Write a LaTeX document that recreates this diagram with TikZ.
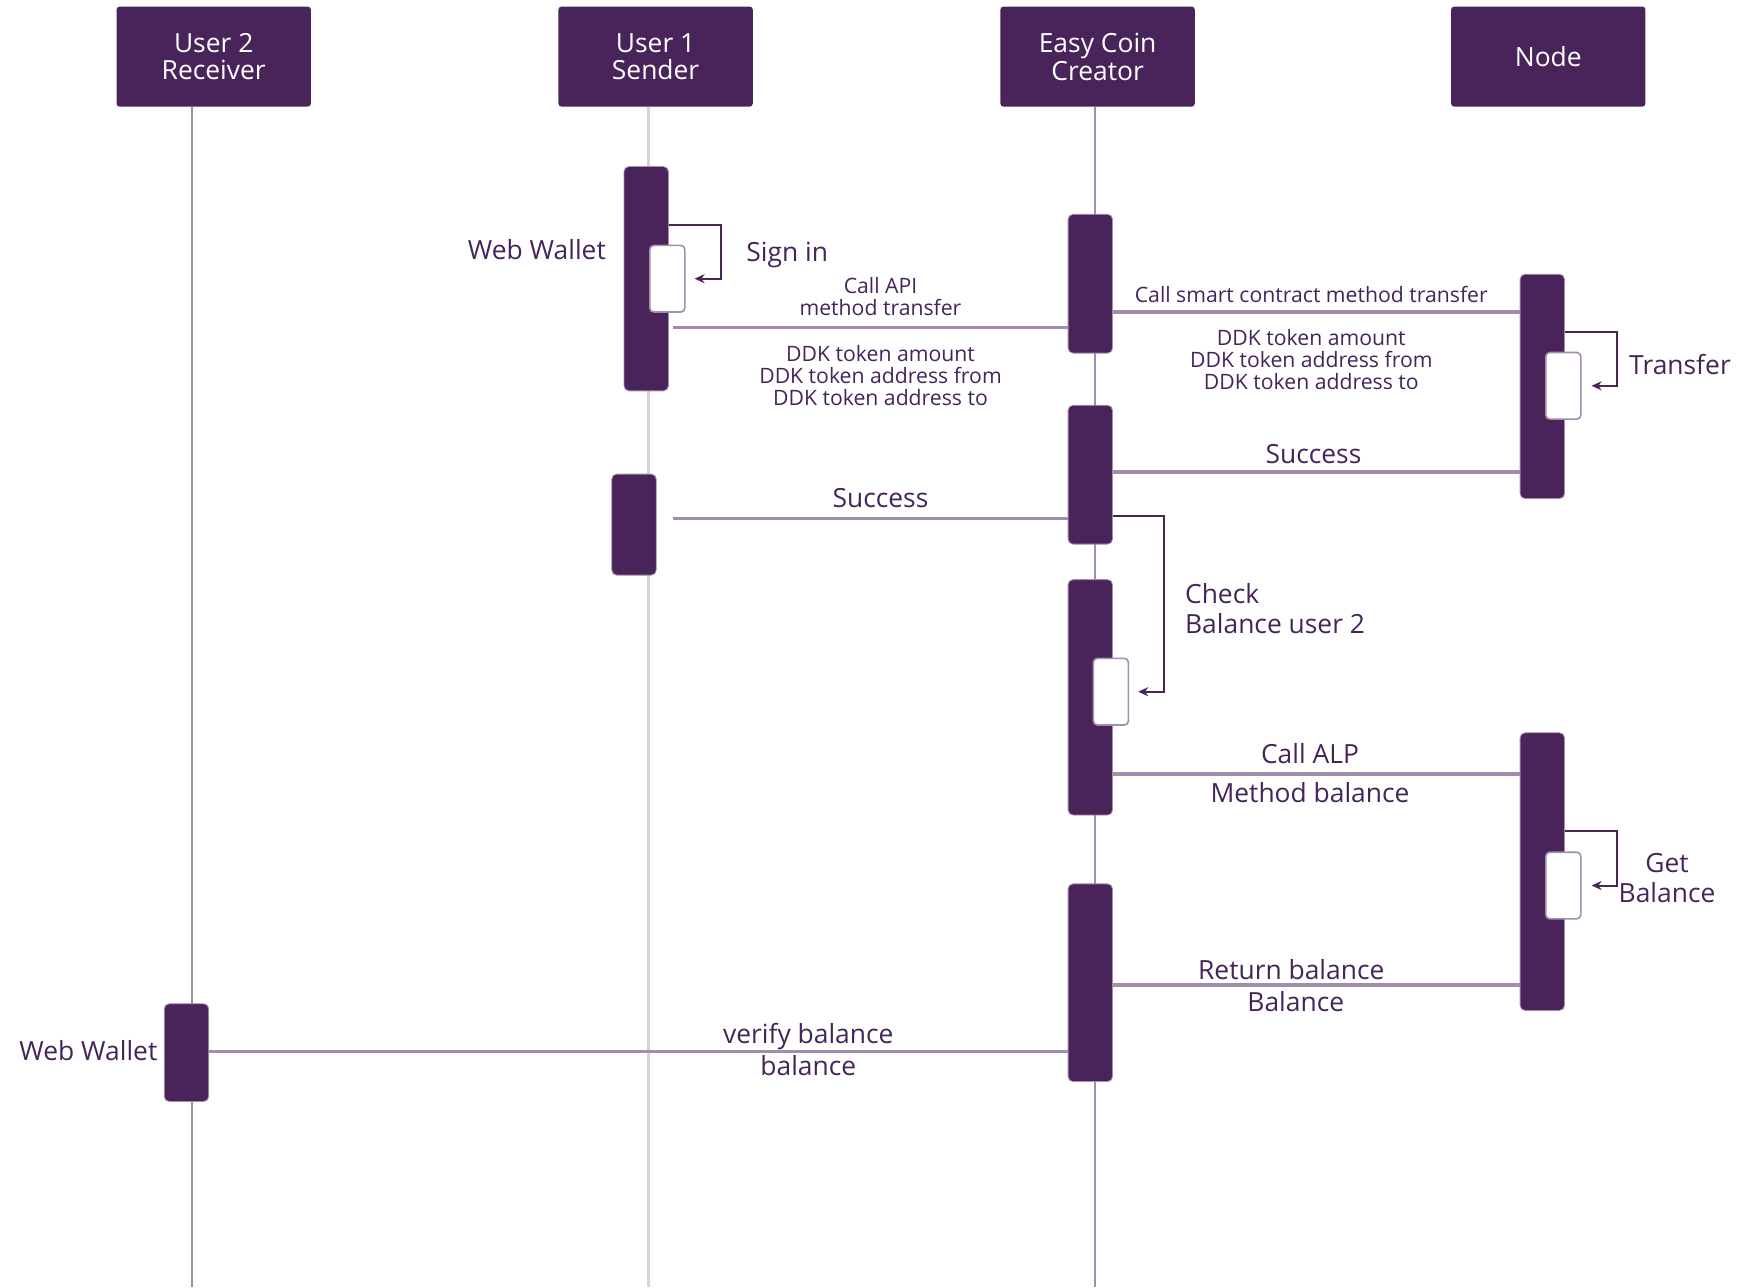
\documentclass[tikz,border=0pt]{standalone}
\usepackage{fontspec}
\setmainfont{Open Sans}
\usepackage{tikz}
\usetikzlibrary{arrows.meta}

\definecolor{easypurple}{HTML}{48245A}
\definecolor{linegray}{HTML}{A28DAD}
\definecolor{palegray}{HTML}{D8D1DE}
\definecolor{textpurple}{HTML}{45245A}

\tikzset{
  header/.style={fill=easypurple, rounded corners=1.5pt, minimum width=97.15pt,
    minimum height=50pt, inner sep=0pt, text=white, align=center,
    font=\fontsize{13.2}{13.9}\selectfont},
  actbar/.style={fill=easypurple, draw=linegray, line width=0.4pt,
    rounded corners=2.5pt, minimum width=22.2pt, inner sep=0pt},
  innerbox/.style={fill=white, draw=linegray, line width=0.8pt,
    rounded corners=2pt, minimum width=17.5pt, minimum height=33.3pt, inner sep=0pt},
  lifeline/.style={linegray, line width=1.2pt},
  msg/.style={linegray, line width=1.7pt},
  selfcall/.style={easypurple, line width=1pt, -{Stealth[length=5pt,width=4.5pt]}},
  biglbl/.style={text=textpurple, align=center, inner sep=0pt,
    font=\fontsize{13.2}{15}\selectfont},
  smalllbl/.style={text=textpurple, align=center, inner sep=0pt,
    font=\fontsize{10.6}{11.1}\selectfont}
}

\begin{document}
\begin{tikzpicture}[x=0.5pt,y=-0.5pt]
\useasboundingbox (0,0) rectangle (1741,1287);

% actors
\node[header] (hU2) at (213.7,56.6) {User 2\\Receiver};
\node[header] (hU1) at (655.6,56.6) {User 1\\Sender};
\node[header] (hEC) at (1097.6,56.6) {Easy Coin\\Creator};
\node[header] (hN)  at (1548.3,56.6) {Node};

% lifelines
\coordinate (lU2top) at (192,106.6);   \coordinate (lU2end) at (192,1287);
\coordinate (lU1top) at (648.4,106.6); \coordinate (lU1end) at (648.4,1287);
\coordinate (lECtop) at (1094.8,106.6);\coordinate (lECend) at (1094.8,1287);
\draw[lifeline] (lU2top) -- (lU2end);
\draw[lifeline,palegray] (lU1top) -- (lU1end);
\draw[lifeline] (lECtop) -- (lECend);

% activation bars
\node[actbar, minimum height=112.15pt] (bU1a) at (646.2,278.7) {};
\node[innerbox] (iU1) at (667.3,278.7) {};
\node[actbar, minimum height=50.5pt] (bU1b) at (634,524.6) {};

\node[actbar, minimum height=69.4pt] (bEC1) at (1090.3,283.7) {};
\node[actbar, minimum height=69.4pt] (bEC2) at (1090.3,474.7) {};
\node[actbar, minimum height=117.7pt] (bEC3) at (1090.3,697.3) {};
\node[innerbox] (iEC) at (1110.9,691.7) {};
\node[actbar, minimum height=98.85pt] (bEC4) at (1090.3,982.7) {};

\node[actbar, minimum height=112.15pt] (bN1) at (1542.3,386.4) {};
\node[innerbox] (iN1) at (1563.3,385.8) {};
\node[actbar, minimum height=138.8pt] (bN2) at (1542.3,871.6) {};
\node[innerbox] (iN2) at (1563.3,885.5) {};

\node[actbar, minimum height=48.85pt] (bU2) at (186.5,1052.6) {};

% message rows
\coordinate (m1) at (0,327.5);
\coordinate (m2) at (0,312);
\coordinate (m3) at (0,471.9);
\coordinate (m4) at (0,518.5);
\coordinate (m5) at (0,773.9);
\coordinate (m6) at (0,984.9);
\coordinate (m7) at (0,1051.5);

\draw[msg] ([xshift=2.2pt]bU1a.east |- m1) -- (bEC1.west |- m1);
\draw[msg] (bEC1.east |- m2) -- (bN1.west |- m2);
\draw[msg] (bEC2.east |- m3) -- (bN1.west |- m3);
\draw[msg] ([xshift=8pt]bU1b.east |- m4) -- (bEC2.west |- m4);
\draw[msg] (bEC3.east |- m5) -- (bN2.west |- m5);
\draw[msg] (bEC4.east |- m6) -- (bN2.west |- m6);
\draw[msg] (bU2.east |- m7) -- (bEC4.west |- m7);

% self calls
\coordinate (sU1) at (0,225.4);
\coordinate (sEC) at (0,516.3);
\coordinate (sN1) at (0,332);
\coordinate (sN2) at (0,830.5);
\draw[selfcall] (bU1a.east |- sU1) -- ++(52,0) |- ([xshift=4.5pt]iU1.east);
\draw[selfcall] (bEC2.east |- sEC) -- ++(51,0) |- ([xshift=4.5pt]iEC.east);
\draw[selfcall] (bN1.east |- sN1) -- ++(52,0) |- ([xshift=5pt]iN1.east);
\draw[selfcall] (bN2.east |- sN2) -- ++(52,0) |- ([xshift=5pt]iN2.east);

% labels
\node[biglbl, anchor=east] (tWW1) at (606.2,249.8) {Web Wallet};
\node[biglbl, anchor=west] (tSign) at (746,254.5) {Sign in};
\node[smalllbl] (tApi) at (880.5,296.5) {Call API\\method transfer};
\node[smalllbl] (tDDK1) at (880.5,375.3) {DDK token amount\\DDK token address from\\DDK token address to};
\node[smalllbl] (tSmart) at (1311.3,294.2) {Call smart contract method transfer};
\node[smalllbl] (tDDK2) at (1311.3,359.7) {DDK token amount\\DDK token address from\\DDK token address to};
\node[biglbl, anchor=west] (tTrans) at (1628.8,364.2) {Transfer};
\node[biglbl] (tSucc1) at (1313.5,454) {Success};
\node[biglbl] (tSucc2) at (880.5,498.5) {Success};
\node[biglbl, anchor=west, align=left] (tCheck) at (1184.7,609) {Check\\Balance user 2};
\node[biglbl] (tAlp) at (1310,754) {Call ALP};
\node[biglbl] (tMeth) at (1310,792.8) {Method balance};
\node[biglbl] (tGet) at (1667,877.7) {Get\\Balance};
\node[biglbl] (tRet) at (1291.3,969.3) {Return balance};
\node[biglbl] (tBal) at (1295.8,1001.5) {Balance};
\node[biglbl] (tVer) at (808.3,1037) {verify balance};
\node[biglbl] (tbal) at (808.3,1066) {balance};
\node[biglbl, anchor=east] (tWW2) at (157.7,1050.4) {Web Wallet};
\end{tikzpicture}
\end{document}
